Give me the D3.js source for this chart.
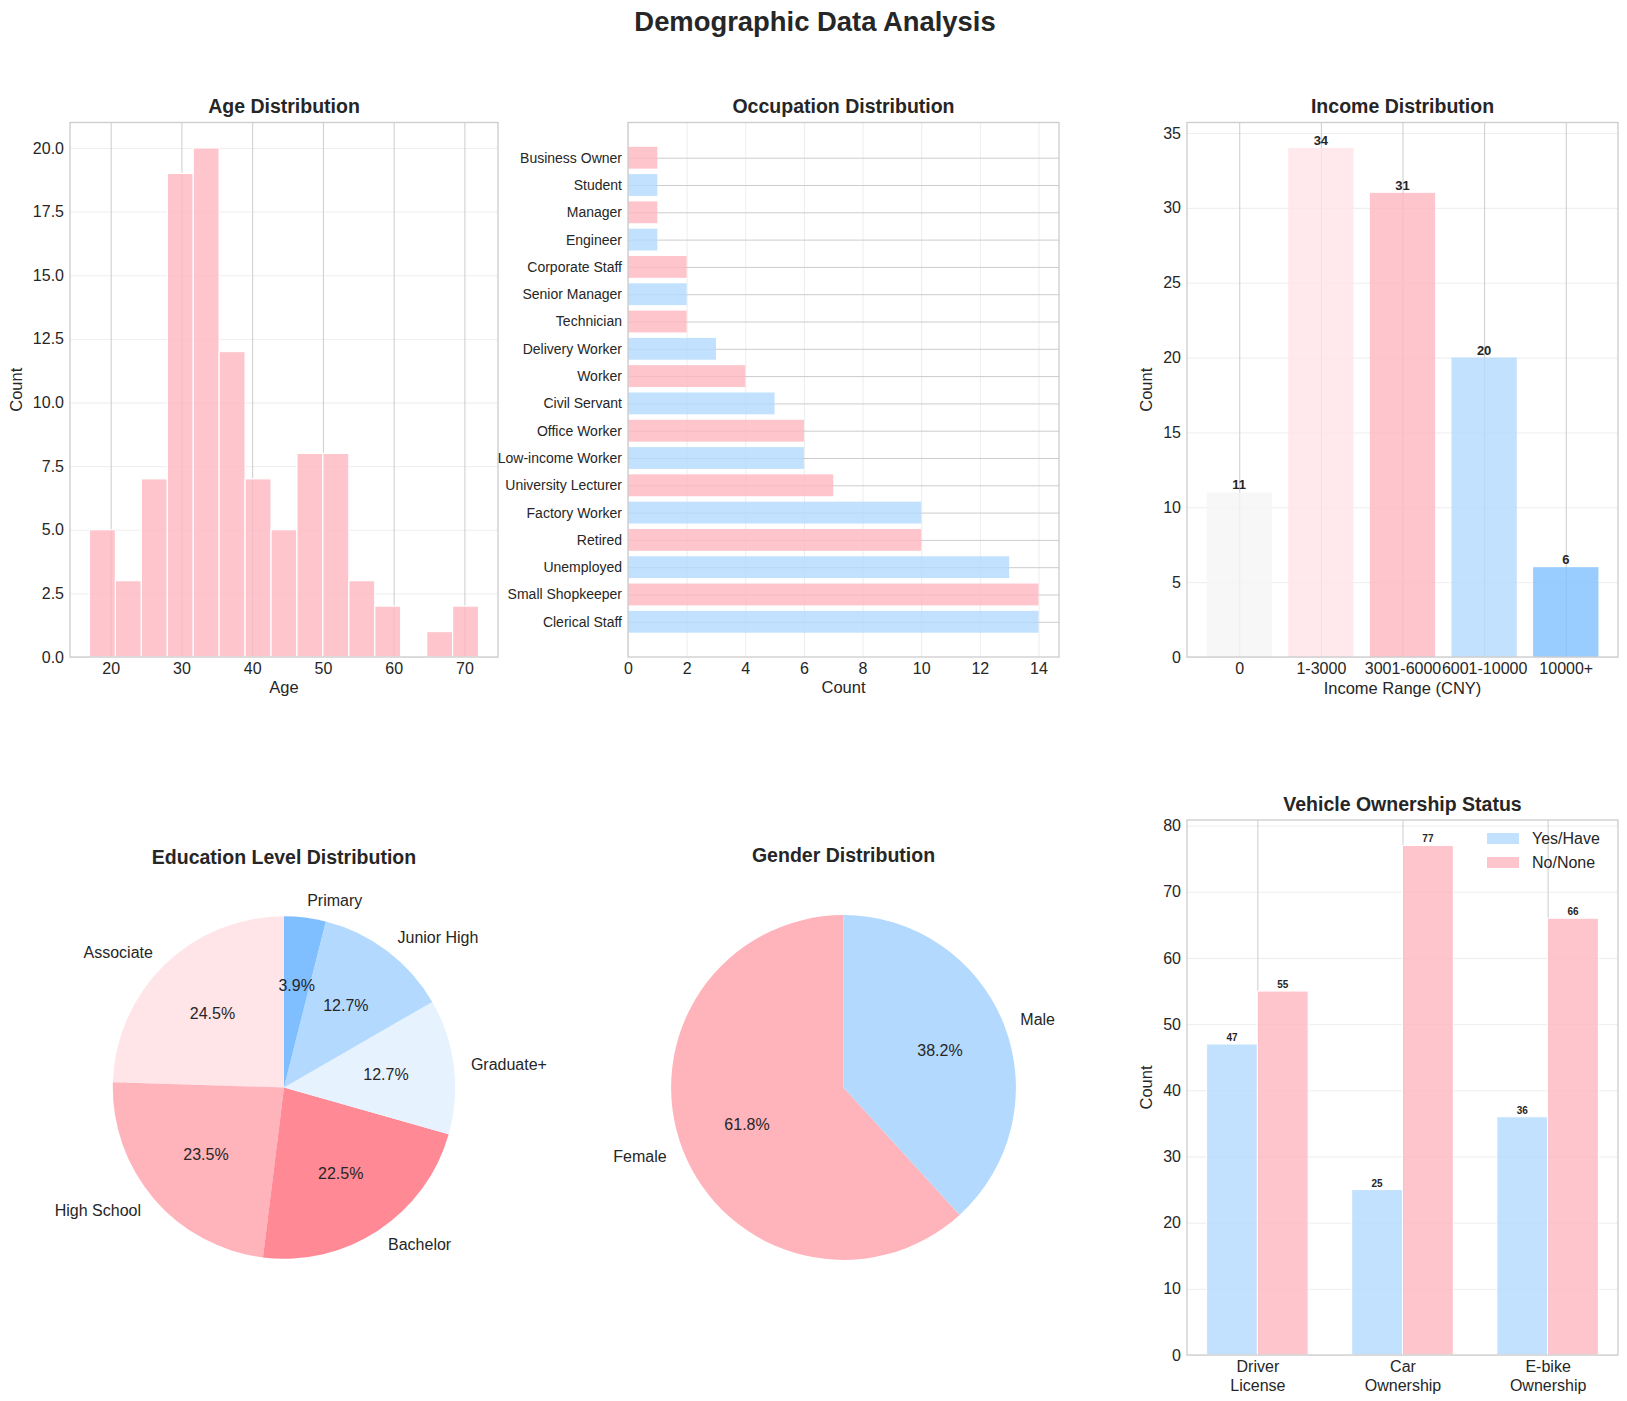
<!DOCTYPE html>
<html>
<head>
<meta charset="utf-8">
<script src="https://cdn.jsdelivr.net/npm/d3@7"></script>
<style>
  body { margin: 0; background: #fff; }
  svg text { font-family: "Liberation Sans", Arial, sans-serif; fill: #262626; }
</style>
</head>
<body>
<svg id="chart" width="1627" height="1401"></svg>
<script>
// ---- data ----
const ageEdges = [17, 20.67, 24.33, 28, 31.67, 35.33, 39, 42.67, 46.33, 50, 53.67, 57.33, 61, 64.67, 68.33, 72];
const ageCounts = [5, 3, 7, 19, 20, 12, 7, 5, 8, 8, 3, 2, 0, 1, 2];

const occNames = ["Clerical Staff", "Small Shopkeeper", "Unemployed", "Retired", "Factory Worker",
  "University Lecturer", "Low-income Worker", "Office Worker", "Civil Servant", "Worker",
  "Delivery Worker", "Technician", "Senior Manager", "Corporate Staff", "Engineer",
  "Manager", "Student", "Business Owner"];
const occCounts = [14, 14, 13, 10, 10, 7, 6, 6, 5, 4, 3, 2, 2, 2, 1, 1, 1, 1];

const incomeRanges = ["0", "1-3000", "3001-6000", "6001-10000", "10000+"];
const incomeCounts = [11, 34, 31, 20, 6];
const incomeColors = ["#F5F5F5", "#FFE4E8", "#FFB6C1", "#B3D9FF", "#80BFFF"];

const eduLevels = ["Associate", "High School", "Bachelor", "Graduate+", "Junior High", "Primary"];
const eduCounts = [25, 24, 23, 13, 13, 4];
const eduColors = ["#FFE4E8", "#FFB3BA", "#FF8A95", "#E6F3FF", "#B3D9FF", "#80BFFF"];

const genders = ["Female", "Male"];
const genderCounts = [63, 39];
const genderColors = ["#FFB3BA", "#B3D9FF"];

const vehicleItems = [["Driver", "License"], ["Car", "Ownership"], ["E-bike", "Ownership"]];
const vehicleYes = [47, 25, 36];
const vehicleNo = [55, 77, 66];

const pink = "#FFB6C1", blue = "#B3D9FF";

// ---- layout ----
const svg = d3.select("#chart");
const row1 = {top: 122.5, bottom: 657};
const row2 = {top: 820, bottom: 1355};
const cols = [{l: 70, r: 498}, {l: 628, r: 1059}, {l: 1187, r: 1618}];

svg.append("text")
  .attr("x", 815).attr("y", 31)
  .attr("text-anchor", "middle")
  .style("font-size", "27.4px").style("font-weight", "bold")
  .text("Demographic Data Analysis");

function title(x, y, t) {
  svg.append("text").attr("x", x).attr("y", y)
    .attr("text-anchor", "middle")
    .style("font-size", "19.5px").style("font-weight", "bold")
    .text(t);
}

function spine(c, row) {
  svg.append("rect")
    .attr("x", c.l).attr("y", row.top)
    .attr("width", c.r - c.l).attr("height", row.bottom - row.top)
    .attr("fill", "none").attr("stroke", "#cccccc").attr("stroke-width", 1.3);
}

// grid via axes; dark = full grid colour, light = alpha 0.3
function gridX(scale, vals, row, dark) {
  const g = svg.append("g").attr("transform", `translate(0,${row.bottom})`)
    .call(d3.axisBottom(scale).tickValues(vals).tickSize(-(row.bottom - row.top)).tickFormat(""));
  g.select(".domain").remove();
  g.selectAll("line").attr("stroke", "#cccccc").attr("stroke-width", 1)
    .attr("stroke-opacity", dark ? 1 : 0.35);
}
function gridY(scale, vals, c, dark) {
  const g = svg.append("g").attr("transform", `translate(${c.l},0)`)
    .call(d3.axisLeft(scale).tickValues(vals).tickSize(-(c.r - c.l)).tickFormat(""));
  g.select(".domain").remove();
  g.selectAll("line").attr("stroke", "#cccccc").attr("stroke-width", 1)
    .attr("stroke-opacity", dark ? 1 : 0.35);
}

function xTicks(scale, vals, fmt, row, size) {
  const g = svg.append("g").attr("transform", `translate(0,${row.bottom})`)
    .call(d3.axisBottom(scale).tickValues(vals).tickFormat(fmt).tickSize(0).tickPadding(6));
  g.select(".domain").remove();
  g.selectAll("text").style("font-size", (size || 16) + "px").attr("fill", "#262626");
  return g;
}
function yTicks(scale, vals, fmt, c, size) {
  const g = svg.append("g").attr("transform", `translate(${c.l},0)`)
    .call(d3.axisLeft(scale).tickValues(vals).tickFormat(fmt).tickSize(0).tickPadding(6));
  g.select(".domain").remove();
  g.selectAll("text").style("font-size", (size || 16) + "px").attr("fill", "#262626");
  return g;
}

function xLabel(c, y, t) {
  svg.append("text").attr("x", (c.l + c.r) / 2).attr("y", y)
    .attr("text-anchor", "middle").style("font-size", "16.5px").text(t);
}
function yLabel(x, row, t) {
  const cy = (row.top + row.bottom) / 2;
  svg.append("text").attr("transform", `translate(${x},${cy}) rotate(-90)`)
    .attr("text-anchor", "middle").style("font-size", "16.5px").text(t);
}

// ---- Age histogram ----
{
  const c = cols[0], row = row1;
  const x = d3.scaleLinear().domain([14.25, 74.75]).range([c.l, c.r]);
  const y = d3.scaleLinear().domain([0, 21]).range([row.bottom, row.top]);
  gridY(y, d3.range(0, 20.01, 2.5), c, false);
  gridX(x, d3.range(20, 71, 10), row, true);
  svg.append("g").selectAll("rect").data(ageCounts).join("rect")
    .attr("x", (d, i) => x(ageEdges[i]))
    .attr("width", (d, i) => x(ageEdges[i + 1]) - x(ageEdges[i]))
    .attr("y", d => y(d)).attr("height", d => y(0) - y(d))
    .attr("fill", pink).attr("fill-opacity", 0.8)
    .attr("stroke", "#fff").attr("stroke-width", 1.2);
  spine(c, row);
  xTicks(x, d3.range(20, 71, 10), d3.format("d"), row);
  yTicks(y, d3.range(0, 20.01, 2.5), d3.format(".1f"), c);
  title((c.l + c.r) / 2, 113, "Age Distribution");
  xLabel(c, 693, "Age");
  yLabel(22, row, "Count");
}

// ---- Occupation ----
{
  const c = cols[1], row = row1;
  const x = d3.scaleLinear().domain([0, 14.7]).range([c.l, c.r]);
  const y = d3.scaleLinear().domain([-1.29, 18.29]).range([row.bottom, row.top]);
  const idx = d3.range(occNames.length);
  gridX(x, d3.range(0, 14.1, 2), row, false);
  gridY(y, idx, c, true);
  const bh = y(0) - y(0.8);
  svg.append("g").selectAll("rect").data(occCounts).join("rect")
    .attr("x", x(0)).attr("width", d => x(d) - x(0))
    .attr("y", (d, i) => y(i) - bh / 2).attr("height", bh)
    .attr("fill", (d, i) => i % 2 === 0 ? blue : pink).attr("fill-opacity", 0.8);
  spine(c, row);
  xTicks(x, d3.range(0, 14.1, 2), d3.format("d"), row);
  yTicks(y, idx, i => occNames[i], c, 14);
  title((c.l + c.r) / 2, 113, "Occupation Distribution");
  xLabel(c, 693, "Count");
}

// ---- Income ----
{
  const c = cols[2], row = row1;
  const x = d3.scaleLinear().domain([-0.64, 4.64]).range([c.l, c.r]);
  const y = d3.scaleLinear().domain([0, 35.7]).range([row.bottom, row.top]);
  const idx = d3.range(incomeRanges.length);
  gridY(y, d3.range(0, 35.1, 5), c, false);
  gridX(x, idx, row, true);
  const bw = x(0.8) - x(0);
  svg.append("g").selectAll("rect").data(incomeCounts).join("rect")
    .attr("x", (d, i) => x(i) - bw / 2).attr("width", bw)
    .attr("y", d => y(d)).attr("height", d => y(0) - y(d))
    .attr("fill", (d, i) => incomeColors[i]).attr("fill-opacity", 0.8);
  svg.append("g").selectAll("text").data(incomeCounts).join("text")
    .attr("x", (d, i) => x(i)).attr("y", d => y(d) - 3)
    .attr("text-anchor", "middle")
    .style("font-size", "13px").style("font-weight", "bold")
    .text(d => d);
  spine(c, row);
  xTicks(x, idx, i => incomeRanges[i], row);
  yTicks(y, d3.range(0, 35.1, 5), d3.format("d"), c);
  title((c.l + c.r) / 2, 113, "Income Distribution");
  xLabel(c, 694, "Income Range (CNY)");
  yLabel(1152, row, "Count");
}

// ---- Pies ----
function pieChart(c, names, counts, colors, t) {
  const cx = (c.l + c.r) / 2, cy = (row2.top + row2.bottom) / 2;
  const r = (c.r - c.l) / 2 / 1.25;
  const total = d3.sum(counts);
  const arcs = d3.pie().sort(null).startAngle(0).endAngle(-2 * Math.PI)(counts);
  const arc = d3.arc().innerRadius(0).outerRadius(r);
  const g = svg.append("g").attr("transform", `translate(${cx},${cy})`);
  g.selectAll("path").data(arcs).join("path")
    .attr("d", arc).attr("fill", (d, i) => colors[i]);
  arcs.forEach((d, i) => {
    const a = (d.startAngle + d.endAngle) / 2;
    const lx = 1.1 * r * Math.sin(a), ly = -1.1 * r * Math.cos(a);
    g.append("text").attr("x", lx).attr("y", ly).attr("dy", "0.35em")
      .attr("text-anchor", lx > 0.5 ? "start" : (lx < -0.5 ? "end" : "middle"))
      .style("font-size", "16px").text(names[i]);
    const px = 0.6 * r * Math.sin(a), py = -0.6 * r * Math.cos(a);
    g.append("text").attr("x", px).attr("y", py).attr("dy", "0.35em")
      .attr("text-anchor", "middle")
      .style("font-size", "16px").text((counts[i] / total * 100).toFixed(1) + "%");
  });
  title(cx, cy - (c.r - c.l) / 2 - 10, t);
}
pieChart(cols[0], eduLevels, eduCounts, eduColors, "Education Level Distribution");
pieChart(cols[1], genders, genderCounts, genderColors, "Gender Distribution");

// ---- Vehicle ----
{
  const c = cols[2], row = row2;
  const x = d3.scaleLinear().domain([-0.485, 2.485]).range([c.l, c.r]);
  const y = d3.scaleLinear().domain([0, 80.85]).range([row.bottom, row.top]);
  const idx = d3.range(vehicleItems.length);
  gridY(y, d3.range(0, 80.1, 10), c, false);
  gridX(x, idx, row, true);
  const w = 0.35, bw = x(w) - x(0);
  const series = [{vals: vehicleYes, off: -w / 2, col: blue}, {vals: vehicleNo, off: w / 2, col: pink}];
  series.forEach(s => {
    svg.append("g").selectAll("rect").data(s.vals).join("rect")
      .attr("x", (d, i) => x(i + s.off) - bw / 2).attr("width", bw)
      .attr("y", d => y(d)).attr("height", d => y(0) - y(d))
      .attr("fill", s.col).attr("fill-opacity", 0.8)
      .attr("stroke", "#fff").attr("stroke-width", 1);
    svg.append("g").selectAll("text").data(s.vals).join("text")
      .attr("x", (d, i) => x(i + s.off)).attr("y", d => y(d) - 3)
      .attr("text-anchor", "middle")
      .style("font-size", "10px").style("font-weight", "bold")
      .text(d => d);
  });
  spine(c, row);
  const gx = xTicks(x, idx, "", row);
  gx.selectAll(".tick text").attr("dy", null).each(function(i) {
    const t = d3.select(this);
    vehicleItems[i].forEach((line, k) => {
      t.append("tspan").attr("x", 0).attr("dy", k === 0 ? "0.71em" : "1.15em").text(line);
    });
  });
  yTicks(y, d3.range(0, 80.1, 10), d3.format("d"), c);
  title((c.l + c.r) / 2, 811, "Vehicle Ownership Status");
  yLabel(1152, row, "Count");

  // legend
  const lg = svg.append("g").attr("transform", `translate(${c.r - 131},${row.top + 13})`);
  [["Yes/Have", blue], ["No/None", pink]].forEach((d, i) => {
    lg.append("rect").attr("x", 0).attr("y", i * 24).attr("width", 32).attr("height", 11)
      .attr("fill", d[1]).attr("fill-opacity", 0.8);
    lg.append("text").attr("x", 45).attr("y", i * 24 + 5.5).attr("dy", "0.35em")
      .style("font-size", "16px").text(d[0]);
  });
}
</script>
</body>
</html>
